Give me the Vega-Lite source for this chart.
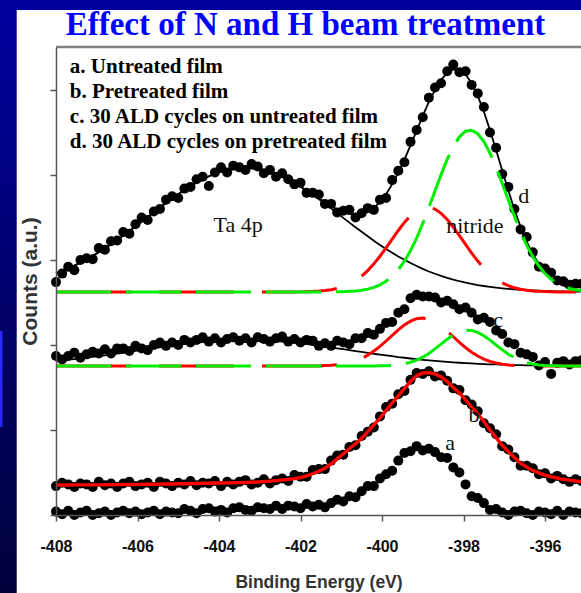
{
  "$schema": "https://vega.github.io/schema/vega-lite/v6.json",
  "width": 525,
  "height": 468,
  "autosize": {"type": "none"},
  "padding": {"left": 56, "top": 47, "right": 0, "bottom": 78},
  "background": "#ffffff",
  "title": {"text": "Effect of N and H beam treatment", "font": "Liberation Serif", "fontSize": 33, "fontWeight": "bold", "color": "#0000ff", "anchor": "middle", "frame": "group", "dx": -13, "offset": 5, "dy": 59, "zindex": 1},
  "config": {
    "locale": {"number": {"decimal": ".", "thousands": ",", "grouping": [3], "currency": ["$", ""], "minus": "-"}},
    "view": {"stroke": null},
    "axisX": {"domainColor": "#555", "domainWidth": 1.5, "tickColor": "#555", "tickWidth": 1.5, "tickSize": 6, "labelFont": "Liberation Sans", "labelFontSize": 16, "labelFontWeight": "bold", "labelColor": "#111", "labelPadding": 17, "labelFlush": false, "labelOverlap": false, "titleFont": "Liberation Sans", "titleFontSize": 17.5, "titleFontWeight": "bold", "titleColor": "#333", "titlePadding": 19, "grid": false},
    "axisY": {"domainColor": "#555", "domainWidth": 1.5, "tickColor": "#555", "tickWidth": 1.5, "tickSize": 6, "labels": false, "titleFont": "Liberation Sans", "titleFontSize": 21, "titleFontWeight": "bold", "titleColor": "#333", "titlePadding": 9, "grid": false}
  },
  "datasets": {
    "w": [
{"e":-408,"a":0.04,"b":0.34,"c":1.87,"d":2.74,"bf":0.353,"cb":1.814,"cr":1.753,"cg":1.753,"db":2.843,"dr":2.624,"dg":2.624,"de":2.843},
{"e":-407.85,"a":0.01,"b":0.38,"c":1.83,"d":2.84,"bf":0.353,"cb":1.820,"cr":1.753,"cg":1.753,"db":2.870,"dr":2.624,"dg":2.624,"de":2.871},
{"e":-407.7,"a":0.05,"b":0.36,"c":1.87,"d":2.92,"bf":0.353,"cb":1.827,"cr":1.753,"cg":1.753,"db":2.901,"dr":2.624,"dg":2.624,"de":2.901},
{"e":-407.55,"a":0.00,"b":0.33,"c":1.91,"d":2.88,"bf":0.354,"cb":1.835,"cr":1.753,"cg":1.753,"db":2.934,"dr":2.624,"dg":2.624,"de":2.934},
{"e":-407.4,"a":0.03,"b":0.37,"c":1.85,"d":3.00,"bf":0.354,"cb":1.843,"cr":1.753,"cg":1.753,"db":2.969,"dr":2.624,"dg":2.624,"de":2.970},
{"e":-407.25,"a":0.05,"b":0.36,"c":1.89,"d":3.02,"bf":0.354,"cb":1.851,"cr":1.753,"cg":1.753,"db":3.009,"dr":2.624,"dg":2.624,"de":3.008},
{"e":-407.1,"a":0.00,"b":0.33,"c":1.92,"d":3.01,"bf":0.355,"cb":1.860,"cr":1.753,"cg":1.753,"db":3.049,"dr":2.624,"dg":2.624,"de":3.049},
{"e":-406.95,"a":0.02,"b":0.39,"c":1.90,"d":3.14,"bf":0.355,"cb":1.869,"cr":1.753,"cg":1.753,"db":3.092,"dr":2.624,"dg":2.624,"de":3.092},
{"e":-406.8,"a":0.04,"b":0.35,"c":1.95,"d":3.12,"bf":0.356,"cb":1.879,"cr":1.753,"cg":1.753,"db":3.137,"dr":2.624,"dg":2.624,"de":3.138},
{"e":-406.65,"a":0.00,"b":0.37,"c":1.90,"d":3.22,"bf":0.356,"cb":1.889,"cr":1.753,"cg":1.753,"db":3.185,"dr":2.624,"dg":2.624,"de":3.186},
{"e":-406.5,"a":0.03,"b":0.33,"c":1.96,"d":3.23,"bf":0.357,"cb":1.899,"cr":1.753,"cg":1.753,"db":3.235,"dr":2.624,"dg":2.624,"de":3.235},
{"e":-406.35,"a":0.05,"b":0.37,"c":1.96,"d":3.33,"bf":0.358,"cb":1.909,"cr":1.753,"cg":1.753,"db":3.287,"dr":2.624,"dg":2.624,"de":3.287},
{"e":-406.2,"a":0.02,"b":0.39,"c":1.93,"d":3.31,"bf":0.358,"cb":1.920,"cr":1.753,"cg":1.753,"db":3.341,"dr":2.624,"dg":2.624,"de":3.341},
{"e":-406.05,"a":0.04,"b":0.34,"c":1.99,"d":3.42,"bf":0.359,"cb":1.930,"cr":1.753,"cg":1.753,"db":3.395,"dr":2.624,"dg":2.624,"de":3.395},
{"e":-405.9,"a":0.01,"b":0.36,"c":1.96,"d":3.50,"bf":0.360,"cb":1.941,"cr":1.753,"cg":1.753,"db":3.451,"dr":2.624,"dg":2.624,"de":3.451},
{"e":-405.75,"a":0.03,"b":0.38,"c":1.94,"d":3.47,"bf":0.361,"cb":1.952,"cr":1.753,"cg":1.753,"db":3.506,"dr":2.624,"dg":2.624,"de":3.506},
{"e":-405.6,"a":0.05,"b":0.33,"c":2.00,"d":3.57,"bf":0.362,"cb":1.963,"cr":1.753,"cg":1.753,"db":3.561,"dr":2.624,"dg":2.624,"de":3.561},
{"e":-405.45,"a":0.01,"b":0.39,"c":2.03,"d":3.60,"bf":0.363,"cb":1.973,"cr":1.753,"cg":1.753,"db":3.617,"dr":2.624,"dg":2.624,"de":3.617},
{"e":-405.3,"a":0.04,"b":0.37,"c":1.99,"d":3.71,"bf":0.364,"cb":1.984,"cr":1.753,"cg":1.753,"db":3.671,"dr":2.624,"dg":2.624,"de":3.671},
{"e":-405.15,"a":0.03,"b":0.34,"c":2.03,"d":3.75,"bf":0.365,"cb":1.994,"cr":1.753,"cg":1.753,"db":3.723,"dr":2.624,"dg":2.624,"de":3.724},
{"e":-405,"a":0.02,"b":0.38,"c":2.00,"d":3.73,"bf":0.367,"cb":2.003,"cr":1.753,"cg":1.753,"db":3.775,"dr":2.624,"dg":2.624,"de":3.775},
{"e":-404.85,"a":0.07,"b":0.36,"c":2.06,"d":3.84,"bf":0.368,"cb":2.012,"cr":1.753,"cg":1.753,"db":3.824,"dr":2.624,"dg":2.624,"de":3.824},
{"e":-404.7,"a":0.05,"b":0.40,"c":2.03,"d":3.86,"bf":0.370,"cb":2.020,"cr":1.753,"cg":1.753,"db":3.869,"dr":2.624,"dg":2.624,"de":3.869},
{"e":-404.55,"a":0.02,"b":0.35,"c":2.06,"d":3.95,"bf":0.371,"cb":2.028,"cr":1.753,"cg":1.753,"db":3.912,"dr":2.624,"dg":2.624,"de":3.912},
{"e":-404.4,"a":0.07,"b":0.38,"c":2.09,"d":3.98,"bf":0.373,"cb":2.035,"cr":1.753,"cg":1.753,"db":3.950,"dr":2.624,"dg":2.624,"de":3.949},
{"e":-404.25,"a":0.08,"b":0.37,"c":2.04,"d":3.87,"bf":0.374,"cb":2.041,"cr":1.753,"cg":1.753,"db":3.985,"dr":2.624,"dg":2.624,"de":3.985},
{"e":-404.1,"a":0.04,"b":0.40,"c":2.08,"d":4.03,"bf":0.376,"cb":2.047,"cr":1.753,"cg":1.753,"db":4.014,"dr":2.624,"dg":2.624,"de":4.014},
{"e":-403.95,"a":0.06,"b":0.34,"c":2.03,"d":4.09,"bf":0.377,"cb":2.051,"cr":1.753,"cg":1.753,"db":4.038,"dr":2.624,"dg":2.624,"de":4.039},
{"e":-403.8,"a":0.03,"b":0.39,"c":2.07,"d":4.03,"bf":0.378,"cb":2.055,"cr":1.753,"cg":1.753,"db":4.058,"dr":2.624,"dg":2.624,"de":4.058},
{"e":-403.65,"a":0.08,"b":0.36,"c":2.09,"d":4.11,"bf":0.379,"cb":2.057,"cr":1.753,"cg":1.753,"db":4.072,"dr":2.624,"dg":2.624,"de":4.072},
{"e":-403.5,"a":0.09,"b":0.39,"c":2.05,"d":4.09,"bf":0.381,"cb":2.059,"cr":1.753,"cg":1.753,"db":4.079,"dr":2.624,"dg":2.624,"de":4.080},
{"e":-403.35,"a":0.06,"b":0.41,"c":2.08,"d":4.06,"bf":0.383,"cb":2.059,"cr":1.753,"cg":1.753,"db":4.082,"dr":2.624,"dg":2.624,"de":4.082},
{"e":-403.2,"a":0.05,"b":0.36,"c":2.03,"d":4.13,"bf":0.386,"cb":2.058,"cr":1.753,"cg":1.753,"db":4.079,"dr":2.624,"dg":2.624,"de":4.079},
{"e":-403.05,"a":0.09,"b":0.38,"c":2.09,"d":4.10,"bf":0.389,"cb":2.056,"cr":1.753,"cg":1.753,"db":4.069,"dr":2.624,"dg":2.624,"de":4.070},
{"e":-402.9,"a":0.08,"b":0.42,"c":2.07,"d":4.02,"bf":0.393,"cb":2.054,"cr":1.753,"cg":1.753,"db":4.055,"dr":2.624,"dg":2.624,"de":4.055},
{"e":-402.75,"a":0.07,"b":0.37,"c":2.04,"d":4.06,"bf":0.398,"cb":2.050,"cr":1.753,"cg":1.753,"db":4.036,"dr":2.624,"dg":2.624,"de":4.035},
{"e":-402.6,"a":0.11,"b":0.41,"c":2.08,"d":3.98,"bf":0.404,"cb":2.046,"cr":1.753,"cg":1.753,"db":4.009,"dr":2.624,"dg":2.624,"de":4.009},
{"e":-402.45,"a":0.07,"b":0.43,"c":2.10,"d":4.02,"bf":0.411,"cb":2.040,"cr":1.753,"cg":1.753,"db":3.979,"dr":2.624,"dg":2.624,"de":3.979},
{"e":-402.3,"a":0.11,"b":0.40,"c":2.04,"d":3.95,"bf":0.419,"cb":2.034,"cr":1.753,"cg":1.753,"db":3.944,"dr":2.624,"dg":2.624,"de":3.944},
{"e":-402.15,"a":0.10,"b":0.47,"c":2.07,"d":3.89,"bf":0.428,"cb":2.027,"cr":1.753,"cg":1.753,"db":3.904,"dr":2.624,"dg":2.624,"de":3.905},
{"e":-402,"a":0.08,"b":0.45,"c":2.03,"d":3.91,"bf":0.44,"cb":2.019,"cr":1.753,"cg":1.753,"db":3.862,"dr":2.625,"dg":2.624,"de":3.862},
{"e":-401.85,"a":0.13,"b":0.45,"c":2.06,"d":3.79,"bf":0.46,"cb":2.010,"cr":1.753,"cg":1.753,"db":3.815,"dr":2.627,"dg":2.624,"de":3.819},
{"e":-401.7,"a":0.10,"b":0.53,"c":2.05,"d":3.79,"bf":0.485,"cb":2.001,"cr":1.753,"cg":1.753,"db":3.767,"dr":2.630,"dg":2.624,"de":3.773},
{"e":-401.55,"a":0.12,"b":0.54,"c":1.99,"d":3.77,"bf":0.515,"cb":1.992,"cr":1.753,"cg":1.753,"db":3.716,"dr":2.634,"dg":2.624,"de":3.726},
{"e":-401.4,"a":0.09,"b":0.54,"c":2.02,"d":3.66,"bf":0.55,"cb":1.982,"cr":1.758,"cg":1.753,"db":3.662,"dr":2.640,"dg":2.624,"de":3.679},
{"e":-401.25,"a":0.14,"b":0.64,"c":1.99,"d":3.66,"bf":0.60,"cb":1.972,"cr":1.762,"cg":1.753,"db":3.607,"dr":2.651,"dg":2.625,"de":3.634},
{"e":-401.1,"a":0.18,"b":0.70,"c":2.05,"d":3.56,"bf":0.66,"cb":1.961,"cr":1.768,"cg":1.753,"db":3.552,"dr":2.666,"dg":2.626,"de":3.597},
{"e":-400.95,"a":0.16,"b":0.71,"c":2.03,"d":3.58,"bf":0.72,"cb":1.951,"cr":1.777,"cg":1.753,"db":3.496,"dr":2.688,"dg":2.627,"de":3.564},
{"e":-400.8,"a":0.22,"b":0.80,"c":2.01,"d":3.59,"bf":0.78,"cb":1.940,"cr":1.792,"cg":1.753,"db":3.440,"dr":2.718,"dg":2.631,"de":3.542},
{"e":-400.65,"a":0.21,"b":0.82,"c":2.08,"d":3.50,"bf":0.84,"cb":1.929,"cr":1.813,"cg":1.753,"db":3.386,"dr":2.758,"dg":2.636,"de":3.532},
{"e":-400.5,"a":0.28,"b":0.93,"c":2.08,"d":3.55,"bf":0.90,"cb":1.918,"cr":1.842,"cg":1.753,"db":3.332,"dr":2.810,"dg":2.644,"de":3.539},
{"e":-400.35,"a":0.34,"b":0.98,"c":2.14,"d":3.61,"bf":0.98,"cb":1.908,"cr":1.880,"cg":1.753,"db":3.279,"dr":2.875,"dg":2.657,"de":3.565},
{"e":-400.2,"a":0.34,"b":1.03,"c":2.12,"d":3.59,"bf":1.06,"cb":1.897,"cr":1.928,"cg":1.753,"db":3.227,"dr":2.955,"dg":2.678,"de":3.612},
{"e":-400.05,"a":0.43,"b":1.16,"c":2.19,"d":3.71,"bf":1.14,"cb":1.887,"cr":1.984,"cg":1.755,"db":3.177,"dr":3.044,"dg":2.707,"de":3.681},
{"e":-399.9,"a":0.48,"b":1.27,"c":2.26,"d":3.73,"bf":1.23,"cb":1.877,"cr":2.047,"cg":1.757,"db":3.130,"dr":3.142,"dg":2.750,"de":3.774},
{"e":-399.75,"a":0.52,"b":1.31,"c":2.27,"d":3.94,"bf":1.32,"cb":1.868,"cr":2.113,"cg":1.761,"db":3.085,"dr":3.245,"dg":2.808,"de":3.892},
{"e":-399.6,"a":0.64,"b":1.42,"c":2.38,"d":4.05,"bf":1.40,"cb":1.858,"cr":2.178,"cg":1.768,"db":3.042,"dr":3.347,"dg":2.886,"de":4.028},
{"e":-399.45,"a":0.73,"b":1.46,"c":2.42,"d":4.15,"bf":1.49,"cb":1.850,"cr":2.236,"cg":1.779,"db":3.002,"dr":3.442,"dg":2.986,"de":4.182},
{"e":-399.3,"a":0.75,"b":1.59,"c":2.55,"d":4.39,"bf":1.57,"cb":1.841,"cr":2.281,"cg":1.797,"db":2.964,"dr":3.522,"dg":3.110,"de":4.348},
{"e":-399.15,"a":0.81,"b":1.67,"c":2.59,"d":4.53,"bf":1.64,"cb":1.833,"cr":2.310,"cg":1.822,"db":2.929,"dr":3.582,"dg":3.258,"de":4.521},
{"e":-399,"a":0.76,"b":1.66,"c":2.57,"d":4.68,"bf":1.67,"cb":1.826,"cr":2.318,"cg":1.857,"db":2.895,"dr":3.617,"dg":3.430,"de":4.695},
{"e":-398.85,"a":0.78,"b":1.69,"c":2.57,"d":4.91,"bf":1.675,"cb":1.819,"cr":2.305,"cg":1.901,"db":2.865,"dr":3.622,"dg":3.617,"de":4.859},
{"e":-398.7,"a":0.74,"b":1.63,"c":2.56,"d":5.03,"bf":1.66,"cb":1.813,"cr":2.272,"cg":1.954,"db":2.838,"dr":3.599,"dg":3.812,"de":5.001},
{"e":-398.55,"a":0.68,"b":1.64,"c":2.50,"d":5.08,"bf":1.625,"cb":1.807,"cr":2.222,"cg":2.011,"db":2.813,"dr":3.549,"dg":4.004,"de":5.119},
{"e":-398.4,"a":0.67,"b":1.58,"c":2.52,"d":5.22,"bf":1.57,"cb":1.801,"cr":2.162,"cg":2.068,"db":2.790,"dr":3.476,"dg":4.183,"de":5.201},
{"e":-398.25,"a":0.56,"b":1.49,"c":2.48,"d":5.30,"bf":1.50,"cb":1.796,"cr":2.097,"cg":2.118,"db":2.769,"dr":3.386,"dg":4.335,"de":5.244},
{"e":-398.1,"a":0.50,"b":1.47,"c":2.42,"d":5.21,"bf":1.435,"cb":1.791,"cr":2.031,"cg":2.156,"db":2.750,"dr":3.286,"dg":4.449,"de":5.238},
{"e":-397.95,"a":0.36,"b":1.35,"c":2.44,"d":5.22,"bf":1.355,"cb":1.787,"cr":1.969,"cg":2.175,"db":2.734,"dr":3.183,"dg":4.515,"de":5.184},
{"e":-397.8,"a":0.22,"b":1.30,"c":2.38,"d":5.06,"bf":1.27,"cb":1.783,"cr":1.914,"cg":2.172,"db":2.719,"dr":3.080,"dg":4.527,"de":5.079},
{"e":-397.65,"a":0.20,"b":1.22,"c":2.30,"d":4.96,"bf":1.19,"cb":1.779,"cr":1.870,"cg":2.149,"db":2.705,"dr":2.987,"dg":4.485,"de":4.931},
{"e":-397.5,"a":0.14,"b":1.08,"c":2.32,"d":4.80,"bf":1.10,"cb":1.776,"cr":1.834,"cg":2.109,"db":2.694,"dr":2.904,"dg":4.393,"de":4.745},
{"e":-397.35,"a":0.06,"b":1.02,"c":2.27,"d":4.50,"bf":1.00,"cb":1.773,"cr":1.807,"cg":2.057,"db":2.684,"dr":2.834,"dg":4.257,"de":4.527},
{"e":-397.2,"a":0.07,"b":0.95,"c":2.17,"d":4.32,"bf":0.91,"cb":1.771,"cr":1.788,"cg":2.000,"db":2.675,"dr":2.777,"dg":4.089,"de":4.295},
{"e":-397.05,"a":0.03,"b":0.81,"c":2.13,"d":4.01,"bf":0.82,"cb":1.768,"cr":1.775,"cg":1.943,"db":2.667,"dr":2.732,"dg":3.901,"de":4.053},
{"e":-396.9,"a":0.00,"b":0.77,"c":2.03,"d":3.86,"bf":0.745,"cb":1.766,"cr":1.766,"cg":1.892,"db":2.660,"dr":2.698,"dg":3.706,"de":3.818},
{"e":-396.75,"a":0.04,"b":0.68,"c":2.01,"d":3.60,"bf":0.675,"cb":1.764,"cr":1.760,"cg":1.850,"db":2.654,"dr":2.673,"dg":3.514,"de":3.594},
{"e":-396.6,"a":0.05,"b":0.58,"c":1.91,"d":3.36,"bf":0.61,"cb":1.763,"cr":1.757,"cg":1.816,"db":2.649,"dr":2.656,"dg":3.333,"de":3.391},
{"e":-396.45,"a":0.02,"b":0.58,"c":1.89,"d":3.27,"bf":0.565,"cb":1.761,"cr":1.755,"cg":1.793,"db":2.645,"dr":2.644,"dg":3.175,"de":3.217},
{"e":-396.3,"a":0.00,"b":0.55,"c":1.86,"d":3.09,"bf":0.525,"cb":1.760,"cr":1.754,"cg":1.777,"db":2.641,"dr":2.636,"dg":3.040,"de":3.071},
{"e":-396.15,"a":0.04,"b":0.48,"c":1.76,"d":2.92,"bf":0.495,"cb":1.759,"cr":1.753,"cg":1.766,"db":2.638,"dr":2.631,"dg":2.929,"de":2.952},
{"e":-396,"a":0.03,"b":0.49,"c":1.80,"d":2.90,"bf":0.47,"cb":1.758,"cr":1.753,"cg":1.760,"db":2.636,"dr":2.628,"dg":2.841,"de":2.858},
{"e":-395.85,"a":0.01,"b":0.43,"c":1.66,"d":2.85,"bf":0.45,"cb":1.757,"cr":1.753,"cg":1.757,"db":2.634,"dr":2.625,"dg":2.774,"de":2.787},
{"e":-395.7,"a":0.05,"b":0.46,"c":1.79,"d":2.76,"bf":0.435,"cb":1.757,"cr":1.753,"cg":1.755,"db":2.632,"dr":2.624,"dg":2.725,"de":2.733},
{"e":-395.55,"a":0.00,"b":0.42,"c":1.81,"d":2.75,"bf":0.42,"cb":1.756,"cr":1.753,"cg":1.754,"db":2.630,"dr":2.624,"dg":2.690,"de":2.697},
{"e":-395.4,"a":0.04,"b":0.39,"c":1.77,"d":2.71,"bf":0.41,"cb":1.756,"cr":1.753,"cg":1.754,"db":2.629,"dr":2.624,"dg":2.665,"de":2.671},
{"e":-395.25,"a":0.03,"b":0.42,"c":1.81,"d":2.72,"bf":0.40,"cb":1.755,"cr":1.753,"cg":1.753,"db":2.628,"dr":2.624,"dg":2.649,"de":2.654},
{"e":-395.1,"a":0.02,"b":0.40,"c":1.82,"d":2.72,"bf":0.39,"cb":1.755,"cr":1.753,"cg":1.753,"db":2.627,"dr":2.624,"dg":2.639,"de":2.643}
    ],
    "leg": [
      {"e": -407.66, "v": 5.2, "t": "a. Untreated film"},
      {"e": -407.66, "v": 4.906, "t": "b. Pretreated film"},
      {"e": -407.66, "v": 4.612, "t": "c. 30 ALD cycles on untreated film"},
      {"e": -407.66, "v": 4.318, "t": "d. 30 ALD cycles on pretreated film"}
    ],
    "ann": [
      {"e": -403.53, "v": 3.329, "t": "Ta 4p"},
      {"e": -397.72, "v": 3.318, "t": "nitride"},
      {"e": -396.52, "v": 3.671, "t": "d"},
      {"e": -397.15, "v": 2.212, "t": "c"},
      {"e": -397.74, "v": 1.094, "t": "b"},
      {"e": -398.33, "v": 0.765, "t": "a"}
    ],
    "one": [{}]
  },
  "layer": [
    {
      "data": {"name": "one"},
      "mark": {"type": "rect", "fill": {"gradient": "linear", "x1": 0, "y1": 0, "x2": 0, "y2": 1, "stops": [{"offset": 0, "color": "#0000a0"}, {"offset": 1, "color": "#000038"}]}},
      "encoding": {
        "x": {"datum": -409.5, "type": "quantitative", "scale": {"domain": [-408, -395.1166], "nice": false, "zero": false}, "axis": {"title": "Binding Energy (eV)", "values": [-408, -406, -404, -402, -400, -398, -396], "zindex": 1}},
        "x2": {"datum": -408.964},
        "y": {"datum": 6.2, "type": "quantitative", "scale": {"domain": [0, 5.50588], "nice": false, "zero": false}, "axis": {"title": "Counts (a.u.)", "values": [0, 1, 2, 3, 4, 5], "zindex": 1}},
        "y2": {"datum": -1.1}
      }
    },
    {
      "data": {"name": "one"},
      "mark": {"type": "rect", "fill": "#00009c"},
      "encoding": {
        "x": {"datum": -409.5, "type": "quantitative", "scale": {"domain": [-408, -395.1166], "nice": false, "zero": false}, "axis": {"title": "Binding Energy (eV)", "values": [-408, -406, -404, -402, -400, -398, -396], "zindex": 1}},
        "x2": {"datum": -393.5},
        "y": {"datum": 6.2, "type": "quantitative", "scale": {"domain": [0, 5.50588], "nice": false, "zero": false}, "axis": {"title": "Counts (a.u.)", "values": [0, 1, 2, 3, 4, 5], "zindex": 1}},
        "y2": {"datum": 5.941}
      }
    },
    {
      "data": {"name": "one"},
      "mark": {"type": "rect", "fill": "#2a2aff"},
      "encoding": {
        "x": {"datum": -409.4, "type": "quantitative", "scale": {"domain": [-408, -395.1166], "nice": false, "zero": false}, "axis": {"title": "Binding Energy (eV)", "values": [-408, -406, -404, -402, -400, -398, -396], "zindex": 1}},
        "x2": {"datum": -409.315},
        "y": {"datum": 2.165, "type": "quantitative", "scale": {"domain": [0, 5.50588], "nice": false, "zero": false}, "axis": {"title": "Counts (a.u.)", "values": [0, 1, 2, 3, 4, 5], "zindex": 1}},
        "y2": {"datum": 1.035}
      }
    },
    {
      "data": {"name": "w"},
      "transform": [{"fold": ["db", "de", "cb"], "as": ["k", "v"]}],
      "mark": {"type": "line", "stroke": "#000000", "strokeWidth": 1.8},
      "encoding": {
        "x": {"field": "e", "type": "quantitative", "scale": {"domain": [-408, -395.1166], "nice": false, "zero": false}, "axis": {"title": "Binding Energy (eV)", "values": [-408, -406, -404, -402, -400, -398, -396], "zindex": 1}},
        "y": {"field": "v", "type": "quantitative", "scale": {"domain": [0, 5.50588], "nice": false, "zero": false}, "axis": {"title": "Counts (a.u.)", "values": [0, 1, 2, 3, 4, 5], "zindex": 1}},
        "detail": {"field": "k"}
      }
    },
    {
      "data": {"name": "w"},
      "transform": [{"fold": ["a", "b", "c", "d"], "as": ["s", "v"]}],
      "mark": {"type": "point", "filled": true, "size": 100, "color": "#000000", "opacity": 1},
      "encoding": {
        "x": {"field": "e", "type": "quantitative", "scale": {"domain": [-408, -395.1166], "nice": false, "zero": false}, "axis": {"title": "Binding Energy (eV)", "values": [-408, -406, -404, -402, -400, -398, -396], "zindex": 1}},
        "y": {"field": "v", "type": "quantitative", "scale": {"domain": [0, 5.50588], "nice": false, "zero": false}, "axis": {"title": "Counts (a.u.)", "values": [0, 1, 2, 3, 4, 5], "zindex": 1}},
        "detail": {"field": "s"}
      }
    },
    {
      "data": {"name": "w"},
      "transform": [{"fold": ["bf"], "as": ["k", "v"]}],
      "mark": {"type": "line", "stroke": "#ff0000", "strokeWidth": 3.4},
      "encoding": {
        "x": {"field": "e", "type": "quantitative", "scale": {"domain": [-408, -395.1166], "nice": false, "zero": false}, "axis": {"title": "Binding Energy (eV)", "values": [-408, -406, -404, -402, -400, -398, -396], "zindex": 1}},
        "y": {"field": "v", "type": "quantitative", "scale": {"domain": [0, 5.50588], "nice": false, "zero": false}, "axis": {"title": "Counts (a.u.)", "values": [0, 1, 2, 3, 4, 5], "zindex": 1}},
        "detail": {"field": "k"}
      }
    },
    {
      "data": {"name": "w"},
      "transform": [{"fold": ["cr", "dr"], "as": ["k", "v"]}],
      "mark": {"type": "line", "stroke": "#ff0000", "strokeWidth": 3, "strokeDash": [75, 28]},
      "encoding": {
        "x": {"field": "e", "type": "quantitative", "scale": {"domain": [-408, -395.1166], "nice": false, "zero": false}, "axis": {"title": "Binding Energy (eV)", "values": [-408, -406, -404, -402, -400, -398, -396], "zindex": 1}},
        "y": {"field": "v", "type": "quantitative", "scale": {"domain": [0, 5.50588], "nice": false, "zero": false}, "axis": {"title": "Counts (a.u.)", "values": [0, 1, 2, 3, 4, 5], "zindex": 1}},
        "detail": {"field": "k"}
      }
    },
    {
      "data": {"name": "w"},
      "transform": [{"fold": ["cg", "dg"], "as": ["k", "v"]}],
      "mark": {"type": "line", "stroke": "#00ee00", "strokeWidth": 3, "strokeDash": [55, 15]},
      "encoding": {
        "x": {"field": "e", "type": "quantitative", "scale": {"domain": [-408, -395.1166], "nice": false, "zero": false}, "axis": {"title": "Binding Energy (eV)", "values": [-408, -406, -404, -402, -400, -398, -396], "zindex": 1}},
        "y": {"field": "v", "type": "quantitative", "scale": {"domain": [0, 5.50588], "nice": false, "zero": false}, "axis": {"title": "Counts (a.u.)", "values": [0, 1, 2, 3, 4, 5], "zindex": 1}},
        "detail": {"field": "k"}
      }
    },
    {
      "data": {"name": "leg"},
      "mark": {"type": "text", "align": "left", "baseline": "alphabetic", "font": "Liberation Serif", "fontSize": 21, "fontWeight": "bold", "color": "#000000"},
      "encoding": {
        "x": {"field": "e", "type": "quantitative", "scale": {"domain": [-408, -395.1166], "nice": false, "zero": false}, "axis": {"title": "Binding Energy (eV)", "values": [-408, -406, -404, -402, -400, -398, -396], "zindex": 1}},
        "y": {"field": "v", "type": "quantitative", "scale": {"domain": [0, 5.50588], "nice": false, "zero": false}, "axis": {"title": "Counts (a.u.)", "values": [0, 1, 2, 3, 4, 5], "zindex": 1}},
        "text": {"field": "t"}
      }
    },
    {
      "data": {"name": "ann"},
      "mark": {"type": "text", "align": "center", "baseline": "alphabetic", "font": "Liberation Serif", "fontSize": 22, "color": "#111111"},
      "encoding": {
        "x": {"field": "e", "type": "quantitative", "scale": {"domain": [-408, -395.1166], "nice": false, "zero": false}, "axis": {"title": "Binding Energy (eV)", "values": [-408, -406, -404, -402, -400, -398, -396], "zindex": 1}},
        "y": {"field": "v", "type": "quantitative", "scale": {"domain": [0, 5.50588], "nice": false, "zero": false}, "axis": {"title": "Counts (a.u.)", "values": [0, 1, 2, 3, 4, 5], "zindex": 1}},
        "text": {"field": "t"}
      }
    },
    {
      "data": {"name": "one"},
      "mark": {"type": "rule", "stroke": "#808080", "strokeWidth": 2.5},
      "encoding": {
        "y": {"datum": 5.50588, "type": "quantitative", "scale": {"domain": [0, 5.50588], "nice": false, "zero": false}, "axis": {"title": "Counts (a.u.)", "values": [0, 1, 2, 3, 4, 5], "zindex": 1}}
      }
    }
  ]
}
